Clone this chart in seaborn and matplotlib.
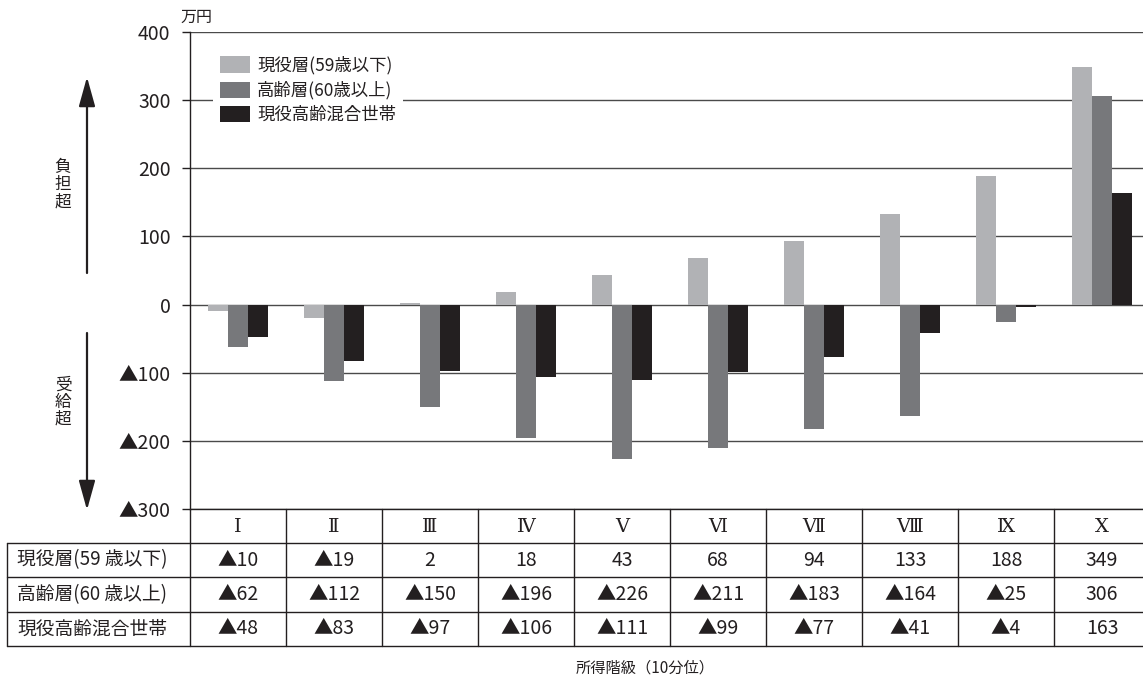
import matplotlib
matplotlib.use("Agg")
import matplotlib.pyplot as plt
import pandas as pd
import seaborn as sns
from matplotlib import transforms
from matplotlib.lines import Line2D
from matplotlib.patches import FancyArrowPatch, Patch

# ---- data (万円) ----
deciles = ["Ⅰ", "Ⅱ", "Ⅲ", "Ⅳ", "Ⅴ", "Ⅵ", "Ⅶ", "Ⅷ", "Ⅸ", "Ⅹ"]
working = [-10, -19, 2, 18, 43, 68, 94, 133, 188, 349]
elderly = [-62, -112, -150, -196, -226, -211, -183, -164, -25, 306]
mixed = [-48, -83, -97, -106, -111, -99, -77, -41, -4, 163]
legend_names = ["現役層(59歳以下)", "高齢層(60歳以上)", "現役高齢混合世帯"]
row_names = ["現役層(59 歳以下)", "高齢層(60 歳以上)", "現役高齢混合世帯"]
colors = ["#b1b2b5", "#77787b", "#231f20"]
yticks = [-300, -200, -100, 0, 100, 200, 300, 400]
unit_label = "万円"
x_title = "所得階級（10分位）"
up_label = "負\n担\n超"
down_label = "受\n給\n超"

series = [working, elderly, mixed]
df = pd.DataFrame({
    "decile": [d for _ in series for d in deciles],
    "group": [n for n, s in zip(legend_names, series) for _ in s],
    "value": [v for s in series for v in s],
})


def fmt(v):
    return f"▲{abs(v)}" if v < 0 else f"{v}"


sns.set_theme(style="white")
plt.rcParams["font.family"] = ["Noto Sans CJK JP", "DejaVu Sans"]
plt.rcParams["text.color"] = "#231f20"

W, H = 1143, 677
fig = plt.figure(figsize=(W / 100, H / 100), dpi=100)


def fx(px):
    return px / W


def fy(py):
    return 1 - py / H


# plot area: x 190..1150 px, y 32..509 px
ax = fig.add_axes([fx(190), fy(509), fx(1150) - fx(190), fy(32) - fy(509)])

sns.barplot(data=df, x="decile", y="value", hue="group", order=deciles,
            hue_order=legend_names, palette=colors, saturation=1,
            width=0.615, linewidth=0, legend=False, ax=ax, zorder=3)

ax.set_xlim(-0.5, len(deciles) - 0.5)
ax.set_ylim(yticks[0], yticks[-1])
ax.set_yticks(yticks)
ax.set_yticklabels([fmt(v) for v in yticks], fontsize=14)
ax.set_xticks([])
ax.set_xlabel("")
ax.set_ylabel("")
ax.yaxis.grid(True, color="#4a4a4a", linewidth=1.0, zorder=0)
ax.set_axisbelow(True)
ax.tick_params(axis="y", direction="out", length=6, width=1.0,
               color="#231f20", pad=8, left=True, labelcolor="#231f20")
for side in ["top", "right"]:
    ax.spines[side].set_visible(False)
ax.spines["left"].set_color("#231f20")
ax.spines["left"].set_linewidth(1.0)
ax.spines["bottom"].set_color("#231f20")
ax.spines["bottom"].set_linewidth(1.0)

# unit label
fig.text(fx(180), fy(17), unit_label, fontsize=11.5, ha="left", va="center")

# legend
handles = [Patch(facecolor=c, edgecolor="none") for c in colors]
ax.legend(handles, legend_names, loc="upper left",
          bbox_to_anchor=(fx(213), fy(49)), bbox_transform=fig.transFigure,
          frameon=True, facecolor="white", edgecolor="none", framealpha=1,
          fancybox=False, fontsize=12.5, handlelength=1.75, handleheight=1.05,
          handletextpad=0.4, labelspacing=0.38, borderpad=0.4,
          borderaxespad=0)

# direction arrows and captions
line_kw = dict(color="#231f20", linewidth=1.6)
arrow_up = FancyArrowPatch((fx(87), fy(273)), (fx(87), fy(77)),
                           transform=fig.transFigure,
                           arrowstyle="-|>,head_length=1.8,head_width=0.5",
                           mutation_scale=10, shrinkA=0, shrinkB=0,
                           facecolor="#231f20", **line_kw)
arrow_dn = FancyArrowPatch((fx(87), fy(333)), (fx(87), fy(510)),
                           transform=fig.transFigure,
                           arrowstyle="-|>,head_length=1.8,head_width=0.5",
                           mutation_scale=10, shrinkA=0, shrinkB=0,
                           facecolor="#231f20", **line_kw)
fig.add_artist(arrow_up)
fig.add_artist(arrow_dn)
fig.text(fx(63), fy(185), up_label, fontsize=12, ha="center", va="center",
         linespacing=1.0)
fig.text(fx(63), fy(402), down_label, fontsize=12, ha="center", va="center",
         linespacing=1.0)

# ---- data table under the plot ----
tb = transforms.blended_transform_factory(ax.transData, fig.transFigure)
row_edges = [509, 543, 577, 612, 646]
tcol = "#231f20"

# horizontal rules
for py in row_edges[1:]:
    fig.add_artist(Line2D([fx(7), fx(1150)], [fy(py), fy(py)],
                          transform=fig.transFigure, color=tcol, lw=1.0))
# vertical rules between deciles
for i in range(len(deciles) + 1):
    fig.add_artist(Line2D([i - 0.5, i - 0.5], [fy(row_edges[0]), fy(row_edges[-1])],
                          transform=tb, color=tcol, lw=1.0))
# left edge of the row-label column
fig.add_artist(Line2D([fx(7), fx(7)], [fy(row_edges[1]), fy(row_edges[-1])],
                      transform=fig.transFigure, color=tcol, lw=1.0))

# header with decile numerals
hy = (row_edges[0] + row_edges[1]) / 2
for i, d in enumerate(deciles):
    fig.text(i, fy(hy + 1), d, transform=tb, ha="center", va="center",
             fontsize=14, family=["DejaVu Serif", "Noto Sans CJK JP"])

# body rows
for r, (name, vals) in enumerate(zip(row_names, series)):
    cy = (row_edges[r + 1] + row_edges[r + 2]) / 2
    fig.text(fx(17), fy(cy), name, ha="left", va="center", fontsize=13.5)
    for i, v in enumerate(vals):
        fig.text(i, fy(cy), fmt(v), transform=tb, ha="center", va="center",
                 fontsize=14)

fig.text(fx(645), fy(668), x_title, ha="center", va="center", fontsize=11)

fig.savefig("out.png", dpi=100)
